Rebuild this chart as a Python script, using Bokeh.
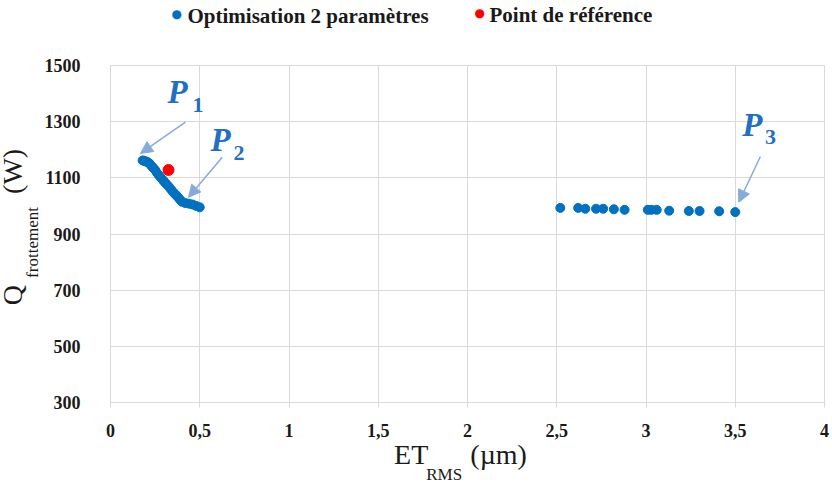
from bokeh.plotting import figure
from bokeh.models import (Range1d, FixedTicker, Label, Arrow, NormalHead, Title)
from bokeh.embed import file_html
from bokeh.resources import INLINE

# ---- data ----
opt_x = [0.18, 0.19, 0.20, 0.21, 0.22, 0.23, 0.24, 0.25, 0.26, 0.27, 0.28, 0.29,
         0.30, 0.31, 0.32, 0.33, 0.34, 0.35, 0.36, 0.37, 0.38, 0.39, 0.40, 0.42,
         0.44, 0.46, 0.48, 0.50,
         2.52, 2.62, 2.66, 2.72, 2.76, 2.82, 2.88, 3.01, 3.03, 3.06, 3.13, 3.24,
         3.30, 3.41, 3.50]
opt_y = [1162, 1160, 1158, 1155, 1150, 1142, 1135, 1128, 1118, 1110, 1102, 1095,
         1087, 1080, 1073, 1066, 1058, 1050, 1043, 1037, 1030, 1022, 1015, 1010,
         1008, 1005, 1000, 995,
         993, 993, 990, 990, 990, 988, 986, 986, 986, 986, 983, 982,
         982, 981, 978]
ref_x = [0.325]
ref_y = [1128]

x_ticks = [0, 0.5, 1, 1.5, 2, 2.5, 3, 3.5, 4]
x_tick_labels = ["0", "0,5", "1", "1,5", "2", "2,5", "3", "3,5", "4"]
y_ticks = [300, 500, 700, 900, 1100, 1300, 1500]

series_names = ["Optimisation 2 paramètres", "Point de référence"]

# annotation anchors (data units)
p_subs = ["1", "2", "3"]
p_lab_x = [0.319, 0.56, 3.539]
p_lab_y = [1404, 1233, 1287]
p_sub_x = [0.459, 0.689, 3.667]
p_sub_y = [1358, 1190, 1244]
arr_x0 = [0.42, 0.626, 3.641]
arr_y0 = [1298, 1173, 1176]
arr_x1 = [0.168, 0.437, 3.52]
arr_y1 = [1187, 1031, 1013]

NB = "\u00a0"
y_label_main = NB * 2 + "Q" + NB * 13 + "(W)"
y_label_sub = "frottement" + NB * 4
x_label_main = "ET" + NB * 6 + "(µm)" + NB * 2
x_label_sub = "RMS" + NB * 11

BLUE = "#0070C0"
RED = "#FF0000"
ABLUE = "#86ABDB"
LBLUE = "#1F6FC5"
TXT = "#1a1a1a"
GRID = "#d9d9d9"
SERIF = "Liberation Serif"

p = figure(width=832, height=484, output_backend="svg", toolbar_location=None,
           x_range=Range1d(0, 4), y_range=Range1d(300, 1500),
           min_border_left=110, min_border_right=8, min_border_top=65,
           min_border_bottom=82)
p.outline_line_color = GRID
p.xgrid.grid_line_color = GRID
p.ygrid.grid_line_color = GRID

p.xaxis.ticker = FixedTicker(ticks=x_ticks)
p.yaxis.ticker = FixedTicker(ticks=y_ticks)
p.xaxis.major_label_overrides = {t: l for t, l in zip(x_ticks, x_tick_labels)}
for ax in (p.xaxis, p.yaxis):
    ax.axis_line_color = GRID
    ax.major_tick_line_color = GRID
    ax.minor_tick_line_color = None
    ax.major_label_text_font = SERIF
    ax.major_label_text_font_style = "bold"
    ax.major_label_text_font_size = "18px"
    ax.major_label_text_color = TXT
    ax.axis_label_text_font = SERIF
    ax.axis_label_text_font_style = "normal"
    ax.axis_label_text_color = TXT
p.xaxis.major_tick_in = 0
p.xaxis.major_tick_out = 5
p.xaxis.major_label_standoff = 16
p.yaxis.major_tick_in = 0
p.yaxis.major_tick_out = 0
p.yaxis.major_label_standoff = 30

# label parts on the main axes
p.yaxis.axis_label = y_label_sub
p.yaxis.axis_label_text_font_size = "17px"
p.yaxis.axis_label_standoff = 0
p.xaxis.axis_label = x_label_main
p.xaxis.axis_label_text_font_size = "28px"
p.xaxis.axis_label_standoff = -1

# outer label parts as titles in the side panels
p.add_layout(Title(text=y_label_main, align="center", vertical_align="top",
                   standoff=-21, text_font=SERIF, text_font_size="28px",
                   text_font_style="normal", text_color=TXT), "left")
p.add_layout(Title(text=x_label_sub, align="center", vertical_align="bottom",
                   standoff=-20.5, text_font=SERIF, text_font_size="17px",
                   text_font_style="normal", text_color=TXT), "below")

p.scatter(opt_x, opt_y, size=9, color=BLUE)
p.scatter(ref_x, ref_y, size=11, color=RED)

# legend row above the frame (titles of nearly zero height on one row)
p.add_layout(Title(text=NB, text_font_size="10px", standoff=36), "above")


def legend_title(text, color, offset, font, size, style):
    fs = float(size.replace("px", ""))
    return Title(text=text, align="left", vertical_align="middle", offset=offset,
                 standoff=-(2 + 1.107 * fs), text_font=font, text_font_size=size,
                 text_font_style=style, text_color=color)


p.add_layout(legend_title(series_names[0], TXT, 77, SERIF, "21px", "bold"), "above")
p.add_layout(legend_title(series_names[1], TXT, 379, SERIF, "21px", "bold"), "above")
p.add_layout(legend_title("●", BLUE, 61, "DejaVu Sans", "12px", "normal"), "above")
p.add_layout(legend_title("●", RED, 364, "DejaVu Sans", "12px", "normal"), "above")

# annotations P1, P2, P3
for i in range(3):
    p.add_layout(Arrow(end=NormalHead(size=12, fill_color=ABLUE, line_color=ABLUE),
                       x_start=arr_x0[i], y_start=arr_y0[i],
                       x_end=arr_x1[i], y_end=arr_y1[i],
                       line_color=ABLUE, line_width=1.5))
    p.add_layout(Label(x=p_lab_x[i], y=p_lab_y[i], text="P",
                       text_font=SERIF, text_font_style="bold italic",
                       text_baseline="alphabetic",
                       text_font_size="33px", text_color=LBLUE))
    p.add_layout(Label(x=p_sub_x[i], y=p_sub_y[i], text=p_subs[i],
                       text_font=SERIF, text_font_style="bold",
                       text_baseline="alphabetic",
                       text_font_size="22px", text_color=LBLUE))

open("out.html", "w").write(file_html(p, INLINE))
